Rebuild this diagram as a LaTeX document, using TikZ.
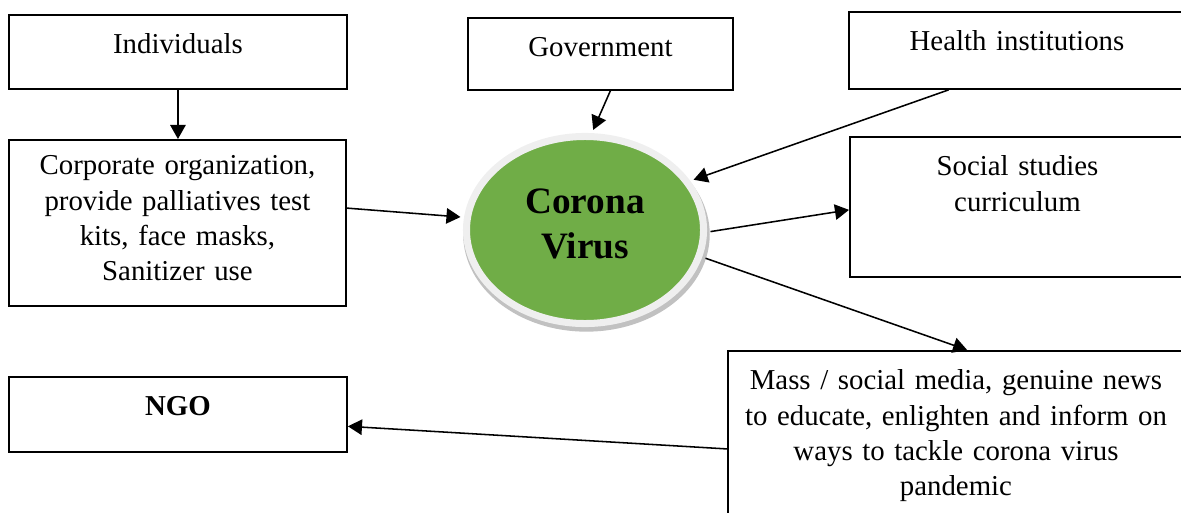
\documentclass[tikz,border=0pt]{standalone}
\usepackage{fontspec}
\setmainfont{Liberation Serif}
\usepackage{tikz}
\usetikzlibrary{arrows.meta,shapes.geometric,shadows}

\definecolor{virusgreen}{HTML}{70AD47}
\definecolor{ringgrey}{HTML}{EFEFEF}

\begin{document}
\begin{tikzpicture}[x=0.025cm, y=-0.025cm,
    box/.style={draw, line width=1.3pt, inner sep=0pt, anchor=north west,
        align=center, text height=0.975cm,
        font=\fontsize{20.5pt}{25pt}\selectfont},
    virusnode/.style={ellipse, draw=ringgrey, line width=5pt, fill=virusgreen,
        inner sep=0pt, minimum width=5.925cm, minimum height=4.675cm,
        text width=4cm, align=center, text depth=1.45cm,
        font=\fontsize{26.5pt}{32pt}\selectfont\bfseries,
        drop shadow={shadow scale=1.04, shadow xshift=1pt, shadow yshift=-3pt,
            opacity=0.35, fill=black!70}},
    flow/.style={line width=1.1pt, -{Triangle[length=10pt, width=11pt]}},
    toring/.style={flow, shorten >=2.5pt},
    fromring/.style={flow, shorten <=2.5pt}]% [ show background grid ]
    \useasboundingbox (0,0) rectangle (1181,512);
    \clip (0,0) rectangle (1181,512);

    \node[box, text width=8.45cm, text depth=0.875cm] (ind) at (8,14) {Individuals};
    \node[box, text width=8.425cm, text height=0.875cm, text depth=3.275cm] (corp) at (8,139)
        {Corporate organization,\\ provide palliatives test\\ kits, face masks,\\ Sanitizer use};
    \node[box, text width=6.625cm, text depth=0.825cm] (gov) at (467,17) {Government};
    \node[box, text width=8.4cm, text depth=0.95cm] (health) at (848,11) {Health institutions};
    \node[box, text width=8.375cm, text depth=2.525cm] (social) at (849,136)
        {Social studies\\ curriculum};
    \node[box, text width=8.45cm, text depth=0.9cm] (ngo) at (8,376) {\textbf{NGO}};
    \node[box, text width=11.4cm, text depth=3.525cm] (media) at (727,350)
        {Mass / social media, genuine news\\ to educate, enlighten and inform on\\
         ways to tackle corona virus\\ pandemic};

    \node[virusnode] (virus) at (585,230) {Corona\\ Virus};

    \draw[flow] (ind.south) -- (ind.south |- corp.north);
    \draw[toring] (gov.-75) -- (virus.86);
    \draw[toring] (health.-150) -- (virus.25);
    \draw[toring] (corp.5) -- (virus.174);
    \draw[fromring] (virus.-1) -- (social.-179);
    \draw[fromring] (virus.-13) -- (media.83);
    \draw[flow] (media.-178) -- (ngo.-4);

\end{tikzpicture}
\end{document}
